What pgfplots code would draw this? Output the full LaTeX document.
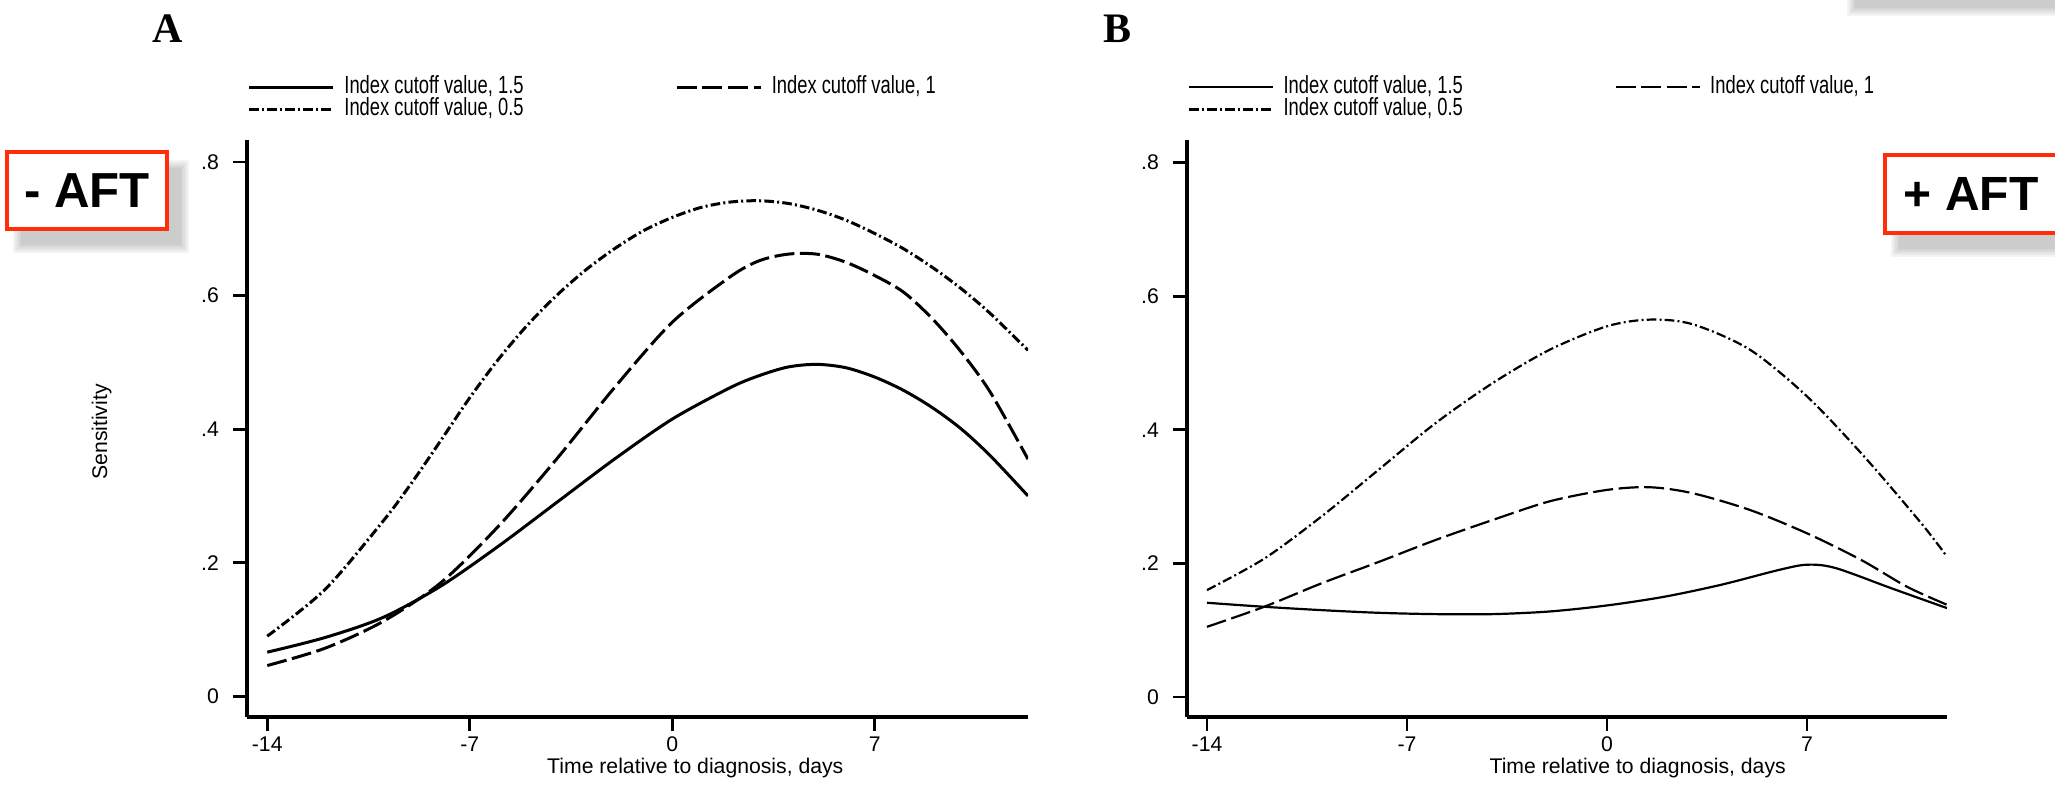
\documentclass[border=0pt]{standalone}
\usepackage{fontspec}
\setmainfont{Liberation Sans}
\newfontfamily\legfont[FakeStretch=0.74]{Liberation Sans}
\newfontfamily\panelfont{Liberation Serif}
\usepackage{pgfplots}
\pgfplotsset{compat=1.18}

\definecolor{boxred}{RGB}{255,45,10}

\newcommand\tickfont{\fontsize{5.3pt}{6.2pt}\selectfont}

% soft shadow behind a box: x0 y0 x1 y1 (pixel units, y grows downward)
\newcommand\softshadow[4]{%
  \foreach \e in {0,2,4,6,8}{%
    \fill[black,opacity=0.045] (#1+14-\e,#2+16-\e) rectangle (#3+14+\e,#4+16+\e);
  }%
}

\pgfplotsset{
  panel/.style={
    scale only axis,
    axis x line*=bottom, axis y line*=left,
    axis line style={-, line width=0.9pt},
    tick align=outside,
    major tick length=3.5pt,
    tick style={line width=0.7pt, black},
    xtick={-14,-7,0,7}, xticklabels={-14,-7,0,7},
    ytick={0,0.2,0.4,0.6,0.8}, yticklabels={0,.2,.4,.6,.8},
    ticklabel style={font=\tickfont},
    xticklabel style={yshift=2pt},
    xlabel={Time relative to diagnosis, days},
    xlabel style={font=\tickfont, anchor=center},
    legend columns=2,
    legend cell align=left,
    legend style={draw=none, fill=none, inner sep=0pt,
      font=\legfont\fontsize{6.2pt}{6.6pt}\selectfont,
      nodes={inner sep=0.4pt, text height=3.9pt, text depth=0.9pt},
      at={(axis description cs:0,1)}, anchor=south west, yshift=4.6pt,
      /tikz/every even column/.append style={column sep=37.5pt}},
    legend image code/.code={\draw[##1] (0pt,0pt) -- (21pt,0pt); \path (23pt,0pt);},
  },
  cut15/.style={solid},
  cut10/.style={dash pattern=on 5pt off 1.4pt},
  cut05/.style={dash pattern=on 2.4pt off 0.8pt on 0.5pt off 0.8pt},
}

\begin{document}
\begin{tikzpicture}
\useasboundingbox (0,0) rectangle (513.75pt,196.75pt);

\begin{scope}[x=0.25pt, y=-0.25pt, yshift=196.75pt]
% panel letters
\node[font=\panelfont\bfseries\fontsize{10.5pt}{11pt}\selectfont] at (168,29) {A};
\node[font=\panelfont\bfseries\fontsize{10.5pt}{11pt}\selectfont] at (1117,29) {B};

% annotation boxes
\softshadow{1841}{-120}{2100}{-8}
\softshadow{7}{152}{167}{229}
\filldraw[draw=boxred, line width=0.8pt, fill=white] (7,152) rectangle (167,229);
\node[font=\bfseries\fontsize{12.3pt}{13pt}\selectfont] at (87,190.5) {- AFT};
\softshadow{1885}{155}{2080}{233}
\filldraw[draw=boxred, line width=0.8pt, fill=white] (1885,155) rectangle (2080,233);
\node[font=\bfseries\fontsize{12pt}{13pt}\selectfont] at (1971,194) {+ AFT};
\end{scope}

% panel A: without AFT
\begin{axis}[panel,
  at={(61.75pt,17.5pt)}, anchor=south west,
  width=195.25pt, height=144.25pt,
  xmin=-14.7, xmax=12.3, ymin=-0.031, ymax=0.833,
  xlabel style={at={(axis description cs:0.574,-0.088)}},
  ylabel={Sensitivity},
  ylabel style={font=\tickfont, at={(axis description cs:-0.186,0.494)}, anchor=center},
]
\addplot[cut15, line width=0.75pt, smooth] coordinates {
  (-14,0.066) (-12,0.088) (-10,0.118) (-8,0.165) (-6,0.225) (-4,0.290)
  (-2,0.355) (0,0.415) (2,0.462) (3,0.480) (4,0.493) (5,0.497) (6,0.492)
  (7,0.478) (8,0.458) (9,0.432) (10,0.400) (11,0.360) (12.3,0.300)
};
\addplot[cut10, line width=0.75pt, smooth] coordinates {
  (-14,0.046) (-12,0.072) (-10,0.112) (-8,0.170) (-6,0.255) (-4,0.355)
  (-2,0.462) (0,0.560) (2,0.628) (3,0.652) (4,0.662) (5,0.662) (6,0.650)
  (7,0.630) (8,0.605) (9,0.565) (10,0.515) (11,0.455) (12.3,0.355)
};
\addplot[cut05, line width=0.75pt, smooth] coordinates {
  (-14,0.090) (-12,0.160) (-10,0.262) (-9,0.320) (-8,0.383) (-7,0.447)
  (-6,0.505) (-5,0.556) (-4,0.600) (-3,0.638) (-2,0.670) (-1,0.697)
  (0,0.717) (1,0.732) (2,0.740) (3,0.742) (4,0.738) (5,0.728) (6,0.713)
  (7,0.693) (8,0.670) (9,0.642) (10,0.610) (11,0.573) (12.3,0.518)
};
\legend{{Index cutoff value, 1.5}, {Index cutoff value, 1}, {Index cutoff value, 0.5}}
\end{axis}

% panel B: with AFT
\begin{axis}[panel,
  at={(296.75pt,17.5pt)}, anchor=south west,
  width=190pt, height=144.25pt,
  xmin=-14.7, xmax=11.9, ymin=-0.030, ymax=0.834,
  xlabel style={at={(axis description cs:0.593,-0.088)}},
]
\addplot[cut15, line width=0.55pt, smooth] coordinates {
  (-14,0.141) (-12,0.135) (-10,0.130) (-8,0.126) (-6,0.124) (-4,0.124)
  (-2,0.128) (0,0.137) (2,0.150) (4,0.168) (6,0.190) (7,0.198) (8,0.193)
  (10,0.162) (11.9,0.133)
};
\addplot[cut10, line width=0.55pt, smooth] coordinates {
  (-14,0.105) (-12,0.135) (-10,0.170) (-8,0.202) (-6,0.235) (-4,0.265)
  (-2,0.293) (0,0.310) (1.5,0.314) (3,0.305) (5,0.280) (7,0.245)
  (8.9,0.205) (10.5,0.165) (11.9,0.138)
};
\addplot[cut05, line width=0.55pt, smooth] coordinates {
  (-14,0.160) (-12,0.207) (-10,0.270) (-8,0.340) (-6,0.410) (-4,0.470)
  (-2,0.520) (0,0.555) (1.5,0.565) (3,0.558) (5,0.520) (7,0.450)
  (9,0.360) (11,0.260) (11.9,0.210)
};
\legend{{Index cutoff value, 1.5}, {Index cutoff value, 1}, {Index cutoff value, 0.5}}
\end{axis}
\end{tikzpicture}
\end{document}
